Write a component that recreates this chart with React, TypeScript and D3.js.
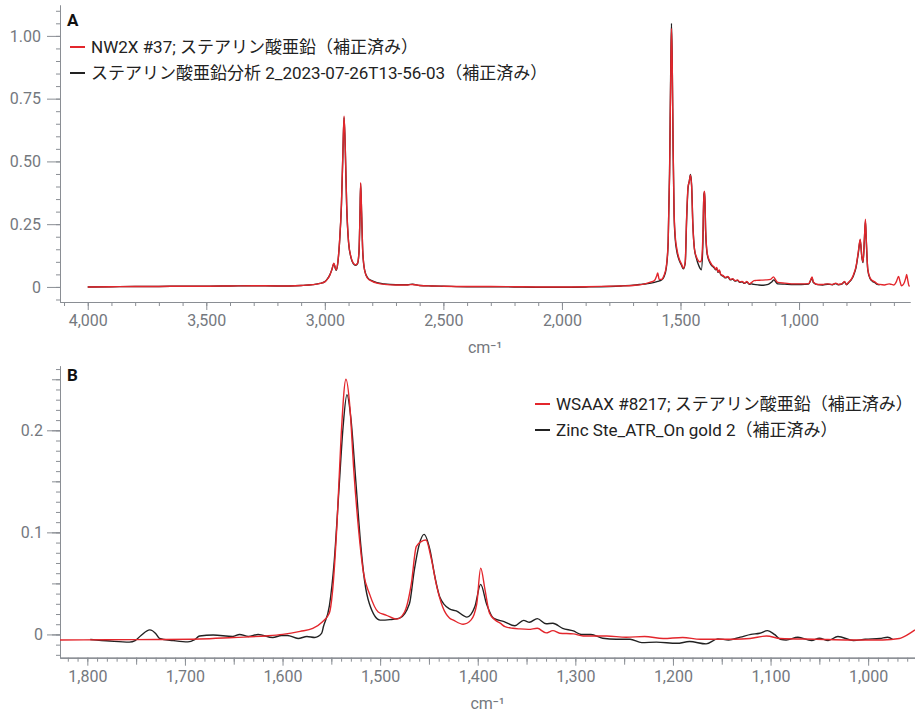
import React, { useEffect, useRef } from 'react';
import * as d3 from 'd3';

// wavenumber (cm-1), absorbance
const redA: [number, number][] = [
  [4000, 0], [3900, 0.001], [3800, 0.002], [3700, 0.002], [3600, 0.003], [3500, 0.003], [3400, 0.004],
  [3300, 0.005], [3200, 0.004], [3100, 0.006], [3050, 0.009], [3020, 0.014], [3000, 0.02], [2990, 0.03],
  [2980, 0.045], [2970, 0.07], [2962, 0.095], [2957, 0.08], [2952, 0.068], [2945, 0.1], [2938, 0.18],
  [2930, 0.33], [2924, 0.53], [2919, 0.68], [2914, 0.56], [2908, 0.33], [2900, 0.18], [2890, 0.12],
  [2880, 0.095], [2870, 0.088], [2862, 0.095], [2856, 0.14], [2852, 0.28], [2849, 0.415], [2845, 0.3],
  [2840, 0.14], [2832, 0.065], [2820, 0.035], [2800, 0.022], [2780, 0.015], [2750, 0.01], [2700, 0.008],
  [2650, 0.008], [2630, 0.01], [2600, 0.006], [2550, 0.004], [2500, 0.003], [2400, 0.002], [2300, 0.002],
  [2200, 0.001], [2100, 0], [2000, 0], [1900, 0.001], [1800, 0.003], [1750, 0.004], [1700, 0.006],
  [1660, 0.01], [1630, 0.018], [1610, 0.025], [1600, 0.045], [1596, 0.056], [1590, 0.03], [1580, 0.03],
  [1570, 0.045], [1560, 0.08], [1552, 0.18], [1546, 0.45], [1541, 0.85], [1538, 1.03], [1535, 0.9],
  [1531, 0.55], [1527, 0.3], [1522, 0.2], [1515, 0.15], [1505, 0.11], [1495, 0.09], [1488, 0.075],
  [1480, 0.1], [1474, 0.28], [1468, 0.4], [1463, 0.42], [1458, 0.445], [1453, 0.4], [1448, 0.25],
  [1441, 0.15], [1433, 0.12], [1425, 0.105], [1418, 0.1], [1412, 0.105], [1406, 0.19], [1401, 0.38],
  [1398, 0.38], [1394, 0.23], [1388, 0.14], [1380, 0.11], [1372, 0.095], [1365, 0.085], [1358, 0.08],
  [1352, 0.07], [1347, 0.078], [1342, 0.06], [1336, 0.068], [1330, 0.05], [1320, 0.045], [1310, 0.038],
  [1300, 0.042], [1290, 0.03], [1280, 0.033], [1270, 0.025], [1260, 0.028], [1250, 0.02], [1240, 0.022],
  [1230, 0.015], [1220, 0.022], [1210, 0.012], [1200, 0.018], [1190, 0.025], [1180, 0.026], [1160, 0.027],
  [1140, 0.028], [1120, 0.03], [1108, 0.04], [1100, 0.03], [1090, 0.018], [1060, 0.015], [1020, 0.012],
  [990, 0.012], [960, 0.013], [950, 0.03], [945, 0.04], [940, 0.02], [920, 0.01], [900, 0.01],
  [880, 0.012], [860, 0.01], [845, 0.015], [835, 0.01], [820, 0.012], [808, 0.022], [800, 0.01],
  [790, 0.02], [780, 0.03], [770, 0.05], [760, 0.08], [750, 0.14], [742, 0.19], [735, 0.12], [730, 0.1],
  [724, 0.2], [720, 0.27], [716, 0.18], [710, 0.07], [700, 0.035], [690, 0.025], [680, 0.02], [670, 0.012],
  [660, 0.01], [640, 0.008], [620, 0.012], [610, 0.01], [600, 0.008], [590, 0.02], [580, 0.042],
  [575, 0.025], [568, 0.005], [560, 0.01], [550, 0.035], [546, 0.05], [542, 0.03], [536, 0.004], [533, 0.003],
];

const blackA: [number, number][] = [
  [4000, 0], [3900, 0.001], [3800, 0.002], [3700, 0.002], [3600, 0.003], [3500, 0.003], [3400, 0.004],
  [3300, 0.005], [3200, 0.004], [3100, 0.006], [3050, 0.009], [3020, 0.014], [3000, 0.021], [2990, 0.031],
  [2980, 0.046], [2970, 0.07], [2962, 0.093], [2957, 0.078], [2952, 0.066], [2945, 0.098], [2938, 0.178],
  [2930, 0.325], [2924, 0.525], [2919, 0.675], [2914, 0.555], [2908, 0.325], [2900, 0.178], [2890, 0.118],
  [2880, 0.093], [2870, 0.086], [2862, 0.093], [2856, 0.138], [2852, 0.275], [2849, 0.41], [2845, 0.295],
  [2840, 0.138], [2832, 0.066], [2820, 0.037], [2800, 0.024], [2780, 0.017], [2750, 0.012], [2700, 0.009],
  [2650, 0.009], [2630, 0.011], [2600, 0.006], [2550, 0.004], [2500, 0.003], [2400, 0.001], [2300, 0.001],
  [2200, 0], [2100, -0.001], [2000, -0.001], [1900, 0], [1800, 0.002], [1750, 0.004], [1700, 0.007],
  [1660, 0.011], [1630, 0.014], [1610, 0.018], [1596, 0.022], [1580, 0.028], [1570, 0.04], [1560, 0.075],
  [1552, 0.175], [1546, 0.46], [1541, 0.88], [1538, 1.05], [1535, 0.91], [1531, 0.54], [1527, 0.29],
  [1522, 0.19], [1515, 0.14], [1505, 0.105], [1495, 0.085], [1488, 0.072], [1480, 0.095], [1474, 0.27],
  [1468, 0.395], [1463, 0.42], [1458, 0.448], [1453, 0.405], [1448, 0.255], [1441, 0.15], [1433, 0.115],
  [1425, 0.09], [1418, 0.075], [1412, 0.068], [1406, 0.16], [1401, 0.37], [1398, 0.378], [1394, 0.225],
  [1388, 0.135], [1380, 0.105], [1372, 0.09], [1365, 0.082], [1358, 0.076], [1352, 0.068], [1347, 0.074],
  [1342, 0.058], [1336, 0.064], [1330, 0.048], [1320, 0.043], [1310, 0.036], [1300, 0.04], [1290, 0.028],
  [1280, 0.031], [1270, 0.023], [1260, 0.026], [1250, 0.018], [1240, 0.02], [1230, 0.014], [1220, 0.019],
  [1210, 0.011], [1200, 0.012], [1190, 0.01], [1170, 0.008], [1150, 0.007], [1130, 0.01], [1115, 0.02],
  [1106, 0.028], [1098, 0.02], [1090, 0.012], [1060, 0.011], [1020, 0.01], [990, 0.01], [960, 0.011],
  [950, 0.028], [945, 0.036], [940, 0.018], [920, 0.009], [900, 0.008], [880, 0.011], [860, 0.009],
  [845, 0.013], [835, 0.009], [820, 0.011], [808, 0.02], [800, 0.009], [790, 0.018], [780, 0.028],
  [770, 0.046], [760, 0.076], [750, 0.135], [742, 0.186], [735, 0.118], [730, 0.097], [724, 0.195],
  [720, 0.262], [716, 0.175], [710, 0.068], [700, 0.033], [690, 0.022], [680, 0.017], [670, 0.01], [660, 0.008],
];

const redB: [number, number][] = [
  [1828, -0.0054], [1780, -0.0052], [1730, -0.005], [1685, -0.0045], [1650, -0.003], [1617, -0.0015],
  [1600, 0], [1582, 0.003], [1569, 0.006], [1559, 0.0125], [1552, 0.021], [1549, 0.04], [1544, 0.112],
  [1540, 0.194], [1535, 0.25], [1531, 0.223], [1527, 0.161], [1522, 0.102], [1517, 0.06], [1511, 0.04],
  [1502, 0.022], [1494, 0.019], [1483, 0.015], [1475, 0.022], [1468, 0.05], [1463, 0.086], [1458, 0.091],
  [1453, 0.0925], [1448, 0.076], [1442, 0.047], [1436, 0.027], [1429, 0.016], [1425, 0.014], [1415, 0.01],
  [1407, 0.014], [1401, 0.03], [1397, 0.065], [1392.5, 0.0435], [1388, 0.021], [1382, 0.014], [1377, 0.011],
  [1372, 0.0076], [1364, 0.006], [1357, 0.0054], [1348, 0.005], [1339, 0.006], [1330, 0.0015],
  [1323, 0.0037], [1316, 0.0012], [1302, 0.0005], [1292, -0.0015], [1268, -0.0015], [1248, -0.0027],
  [1229, -0.002], [1210, -0.004], [1190, -0.003], [1172, -0.0047], [1138, -0.0047], [1121, -0.004],
  [1104, -0.0015], [1090, -0.004], [1053, -0.0047], [1019, -0.0054], [985, -0.0054], [968, -0.004],
  [959, 0], [952, 0.0044],
];

const blackB: [number, number][] = [
  [1797, -0.005], [1777, -0.0065], [1757, -0.0075], [1751, -0.006], [1745, -0.001], [1736, 0.0045],
  [1730, 0.001], [1726, -0.004], [1712, -0.006], [1697, -0.0073], [1690, -0.005], [1685, -0.0015],
  [1671, -0.0005], [1651, -0.002], [1644, 0], [1635, -0.002], [1625, 0], [1610, -0.003], [1601, -0.001],
  [1595, -0.001], [1584, -0.004], [1575, -0.002], [1567, -0.003], [1560, 0.001], [1558, 0.008],
  [1552, 0.028], [1547, 0.072], [1542, 0.145], [1538, 0.203], [1534, 0.235], [1530, 0.212], [1525, 0.151],
  [1520, 0.089], [1516, 0.053], [1511, 0.03], [1500, 0.014], [1490, 0.0145], [1480, 0.016], [1470, 0.03],
  [1465, 0.063], [1460, 0.088], [1455, 0.098], [1449, 0.083], [1444, 0.057], [1439, 0.037], [1429, 0.025],
  [1422, 0.023], [1411, 0.017], [1403, 0.027], [1397, 0.049], [1391, 0.03], [1384, 0.016], [1373, 0.0125],
  [1362, 0.0085], [1353, 0.0138], [1347, 0.012], [1339, 0.0155], [1330, 0.0105], [1323, 0.011],
  [1313, 0.006], [1302, 0.0034], [1294, 0], [1284, 0], [1272, -0.0037], [1258, -0.0047], [1244, -0.0047],
  [1232, -0.008], [1217, -0.0075], [1196, -0.0087], [1183, -0.007], [1166, -0.0093], [1154, -0.0044],
  [1143, -0.0054], [1131, -0.0027], [1120, 0], [1111, 0.0012], [1103, 0.0037], [1096, 0], [1090, -0.0047],
  [1084, -0.0054], [1072, -0.0027], [1058, -0.006], [1050, -0.0037], [1041, -0.006], [1031, -0.002],
  [1015, -0.006], [1003, -0.0047], [988, -0.004], [980, -0.0027], [975, -0.0047],
];

const legendA = ['NW2X #37; ステアリン酸亜鉛（補正済み）', 'ステアリン酸亜鉛分析 2_2023-07-26T13-56-03（補正済み）'];
const legendB = ['WSAAX #8217; ステアリン酸亜鉛（補正済み）', 'Zinc Ste_ATR_On gold 2（補正済み）'];

const xTicksA = [4000, 3500, 3000, 2500, 2000, 1500, 1000];
const yTicksA = [0, 0.25, 0.5, 0.75, 1];
const xTicksB = [1800, 1700, 1600, 1500, 1400, 1300, 1200, 1100, 1000];
const yTicksB = [0, 0.1, 0.2];

const RED = '#e3262c';
const BLACK = '#222222';
const AXIS = '#8a8e94';
const TICKTXT = '#74787e';
const FONT = "Roboto, 'Noto Sans CJK JP', sans-serif";

function App() {
  const ref = useRef<SVGSVGElement>(null);

  useEffect(() => {
    const svg = d3.select(ref.current);
    svg.selectAll('*').remove();

    const panel = (cfg: any) => {
      const x = d3.scaleLinear().domain(cfg.xDomain).range([cfg.left, cfg.right]);
      const y = d3.scaleLinear().domain(cfg.yDomain).range([cfg.bottom, cfg.top]);
      const g = svg.append('g');

      // minor ticks first, then major
      const xMinor = d3.range(cfg.xMinor[0], cfg.xMinor[1] - 1e-9, -cfg.xMinor[2]);
      const xMid = xMinor.filter((v: number) => cfg.xMid && Math.abs(v % cfg.xMid) < 1e-6 && Math.abs(v % cfg.xMajorStep) > 1e-6);
      const yMinor = d3.range(cfg.yMinor[0], cfg.yMinor[1] + 1e-9, cfg.yMinor[2]);
      const yMid = yMinor.filter((v: number) => cfg.yMid && Math.abs(Math.round(v / cfg.yMid) * cfg.yMid - v) < 1e-6);

      const addAxis = (axis: any, tr: string) => {
        const a = g.append('g').attr('transform', tr).call(axis);
        a.select('.domain').attr('stroke', AXIS);
        a.selectAll('.tick line').attr('stroke', AXIS);
        a.selectAll('.tick text').attr('fill', TICKTXT).style('font-size', '16px').style('font-family', FONT);
        return a;
      };

      addAxis(d3.axisBottom(x).tickValues(xMinor).tickSize(4).tickSizeOuter(0).tickFormat(() => ''), `translate(0,${cfg.bottom})`);
      if (xMid.length) addAxis(d3.axisBottom(x).tickValues(xMid).tickSize(7).tickSizeOuter(0).tickFormat(() => ''), `translate(0,${cfg.bottom})`);
      addAxis(d3.axisBottom(x).tickValues(cfg.xTicks).tickSize(8).tickSizeOuter(0).tickPadding(5).tickFormat(d3.format(',') as any), `translate(0,${cfg.bottom})`);

      addAxis(d3.axisLeft(y).tickValues(yMinor).tickSize(4).tickSizeOuter(0).tickFormat(() => ''), `translate(${cfg.left},0)`);
      if (yMid.length) addAxis(d3.axisLeft(y).tickValues(yMid).tickSize(8).tickSizeOuter(0).tickFormat(() => ''), `translate(${cfg.left},0)`);
      addAxis(d3.axisLeft(y).tickValues(cfg.yTicks).tickSize(13).tickSizeOuter(0).tickPadding(cfg.yPad)
        .tickFormat((d: any) => (d === 0 ? '0' : d3.format(cfg.yFmt)(d))), `translate(${cfg.left},0)`);

      g.append('text')
        .attr('x', (cfg.left + cfg.right) / 2)
        .attr('y', cfg.bottom + 51)
        .attr('text-anchor', 'middle')
        .attr('fill', TICKTXT)
        .style('font-size', '16px')
        .style('font-family', FONT)
        .text('cm⁻¹');

      g.append('text')
        .attr('x', cfg.left + 7)
        .attr('y', cfg.labelY)
        .attr('fill', '#111')
        .style('font-size', '17px')
        .style('font-weight', 'bold')
        .style('font-family', FONT)
        .text(cfg.label);

      const line = d3.line<[number, number]>()
        .x(d => x(d[0]))
        .y(d => y(d[1]))
        .curve(d3.curveMonotoneX);

      g.append('path').attr('d', line(cfg.black)).attr('fill', 'none').attr('stroke', BLACK).attr('stroke-width', 1.4);
      g.append('path').attr('d', line(cfg.red)).attr('fill', 'none').attr('stroke', RED).attr('stroke-width', 1.4);

      const leg = g.append('g');
      cfg.legend.forEach((t: string, i: number) => {
        const yy = cfg.legY + i * 26;
        leg.append('line').attr('x1', cfg.legX).attr('x2', cfg.legX + 15).attr('y1', yy).attr('y2', yy)
          .attr('stroke', i === 0 ? RED : BLACK).attr('stroke-width', 2);
        leg.append('text').attr('x', cfg.legX + 21).attr('y', yy).attr('dy', '0.35em')
          .attr('fill', '#222').style('font-size', '17px').style('font-family', FONT).text(t);
      });
    };

    panel({
      xDomain: [4117, 532], yDomain: [-0.06, 1.123],
      left: 60, right: 910, top: 5, bottom: 302,
      xTicks: xTicksA, xMajorStep: 500, xMinor: [4100, 600, 100], xMid: 0,
      yTicks: yTicksA, yMinor: [-0.05, 1.1, 0.05], yMid: 0, yFmt: '.2f', yPad: 6,
      red: redA, black: blackA, legend: legendA, legX: 70, legY: 47, label: 'A', labelY: 26,
    });

    panel({
      xDomain: [1828, 952], yDomain: [-0.0228, 0.263],
      left: 60, right: 915, top: 366, bottom: 657.7,
      xTicks: xTicksB, xMajorStep: 100, xMinor: [1820, 960, 10], xMid: 50,
      yTicks: yTicksB, yMinor: [-0.02, 0.26, 0.01], yMid: 0.05, yFmt: '.1f', yPad: 4,
      red: redB, black: blackB, legend: legendB, legX: 535, legY: 404, label: 'B', labelY: 381,
    });
  }, []);

  return (
    <div>
      <svg ref={ref} width={915} height={712} style={{ position: 'absolute', left: 0, top: 0, background: '#fff' }} />
    </div>
  );
}

export default App;
